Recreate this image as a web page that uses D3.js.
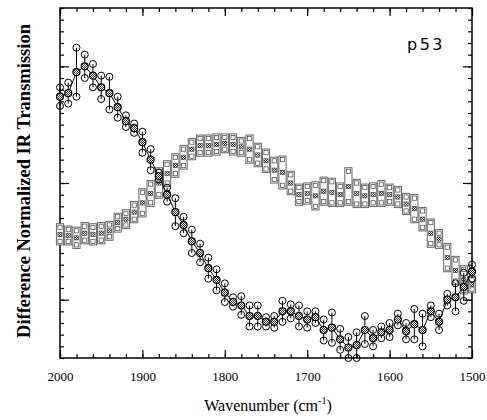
<!DOCTYPE html>
<html>
<head>
<meta charset="utf-8">
<script src="https://cdn.jsdelivr.net/npm/d3@7"></script>
<style>
  body { margin: 0; background: #fff; }
  svg { display: block; }
</style>
</head>
<body>
<div id="chart"></div>
<script>
'use strict';

// wavenumbers (cm-1), one point every 10
var wavenumbers = [2000,1990,1980,1970,1960,1950,1940,1930,1920,1910,
  1900,1890,1880,1870,1860,1850,1840,1830,1820,1810,
  1800,1790,1780,1770,1760,1750,1740,1730,1720,1710,
  1700,1690,1680,1670,1660,1650,1640,1630,1620,1610,
  1600,1590,1580,1570,1560,1550,1540,1530,1520,1510,1500];

// circle series (descending)
var circleVals = [0.74,0.77,0.95,1.00,0.92,0.82,0.77,0.65,0.53,0.47,
  0.35,0.20,0.06,-0.10,-0.25,-0.36,-0.50,-0.60,-0.73,-0.83,
  -0.94,-1.02,-1.05,-1.14,-1.14,-1.19,-1.19,-1.10,-1.10,-1.14,
  -1.17,-1.15,-1.26,-1.24,-1.34,-1.41,-1.39,-1.26,-1.33,-1.28,
  -1.26,-1.17,-1.27,-1.21,-1.26,-1.10,-1.19,-1.00,-0.98,-0.89,-0.76];
var circleErr = [0.08,0.09,0.21,0.10,0.10,0.10,0.14,0.09,0.05,0.04,
  0.09,0.09,0.03,0.06,0.12,0.07,0.10,0.08,0.09,0.09,
  0.08,0.04,0.08,0.09,0.09,0.04,0.05,0.09,0.06,0.09,
  0.07,0.05,0.09,0.13,0.09,0.09,0.11,0.12,0.07,0.05,
  0.06,0.05,0.07,0.13,0.14,0.05,0.07,0.05,0.12,0.12,0.06];

// square series (rising then falling)
var squareVals = [-0.44,-0.45,-0.47,-0.43,-0.44,-0.43,-0.41,-0.34,-0.31,-0.25,
  -0.17,-0.09,0.00,0.08,0.15,0.22,0.29,0.32,0.32,0.33,
  0.34,0.33,0.31,0.29,0.24,0.19,0.11,0.09,0.00,-0.10,
  -0.09,-0.11,-0.07,-0.08,-0.10,-0.03,-0.09,-0.11,-0.10,-0.09,
  -0.10,-0.12,-0.18,-0.22,-0.31,-0.43,-0.48,-0.64,-0.75,-0.83,-0.87];
var squareErr = [0.06,0.05,0.06,0.06,0.06,0.06,0.05,0.05,0.05,0.06,
  0.09,0.08,0.10,0.08,0.07,0.07,0.06,0.06,0.06,0.06,
  0.05,0.06,0.05,0.09,0.07,0.07,0.08,0.11,0.07,0.06,
  0.06,0.09,0.09,0.09,0.07,0.13,0.09,0.07,0.07,0.08,
  0.06,0.06,0.06,0.09,0.07,0.09,0.05,0.09,0.09,0.09,0.04];

var xMajor = [2000,1900,1800,1700,1600,1500];
var yMajor = [-1,0,1];

var serif = '"Liberation Serif", "Times New Roman", Times, serif';

var width = 487, height = 420;
var margin = {top: 8, right: 15, bottom: 62, left: 60};
var w = width - margin.left - margin.right,
    h = height - margin.top - margin.bottom;

var svg = d3.select('#chart').append('svg')
  .attr('width', width).attr('height', height);

// checker pattern for the markers
var defs = svg.append('defs');
var pat = defs.append('pattern').attr('id','hatch')
  .attr('width',2).attr('height',2).attr('patternUnits','userSpaceOnUse');
pat.append('rect').attr('width',2).attr('height',2).attr('fill','#fff');
pat.append('rect').attr('width',1).attr('height',1).attr('fill','#333');
pat.append('rect').attr('x',1).attr('y',1).attr('width',1).attr('height',1).attr('fill','#333');

var g = svg.append('g').attr('transform','translate('+margin.left+','+margin.top+')');

var x = d3.scaleLinear().domain([2000,1500]).range([0,w]);
var y = d3.scaleLinear().domain([-1.5,1.5]).range([h,0]);

var minorX = d3.range(1500,2001,20);
var minorY = d3.range(-15,16).map(function(d){ return d/10; });

// axes: ticks point inward
g.append('g').attr('transform','translate(0,'+h+')')
  .call(d3.axisBottom(x).tickValues(minorX).tickSize(-4).tickFormat(''));
var xAx = g.append('g').attr('transform','translate(0,'+h+')')
  .call(d3.axisBottom(x).tickValues(xMajor).tickSizeInner(-8).tickSizeOuter(0).tickPadding(14).tickFormat(d3.format('d')));
xAx.attr('font-family', serif).attr('font-size', 13);
xAx.selectAll('text').attr('fill','#000');
g.append('g')
  .call(d3.axisTop(x).tickValues(minorX).tickSize(-4).tickFormat(''));
g.append('g')
  .call(d3.axisTop(x).tickValues(xMajor).tickSize(-8).tickFormat(''));
g.append('g')
  .call(d3.axisLeft(y).tickValues(minorY).tickSize(-4).tickFormat(''));
g.append('g')
  .call(d3.axisLeft(y).tickValues(yMajor).tickSize(-9).tickFormat(''));
g.append('g').attr('transform','translate('+w+',0)')
  .call(d3.axisRight(y).tickValues(minorY).tickSize(-4).tickFormat(''));
g.append('g').attr('transform','translate('+w+',0)')
  .call(d3.axisRight(y).tickValues(yMajor).tickSize(-9).tickFormat(''));

g.selectAll('.domain').remove();
g.selectAll('.tick line').attr('stroke','#000').attr('stroke-width',1.2);

g.append('rect').attr('width',w).attr('height',h)
  .attr('fill','none').attr('stroke','#000').attr('stroke-width',1.5);

var sqData = wavenumbers.map(function(d,i){ return {w:d, v:squareVals[i], e:squareErr[i]}; });
var ciData = wavenumbers.map(function(d,i){ return {w:d, v:circleVals[i], e:circleErr[i]}; });

var line = d3.line().x(function(d){ return x(d.w); }).y(function(d){ return y(d.v); });

// squares
g.append('path').datum(sqData).attr('d',line)
  .attr('fill','none').attr('stroke','#666').attr('stroke-width',0.8);
var sq = g.selectAll('.sq').data(sqData).enter().append('g').attr('class','sq');
var s = 3.6;
sq.append('rect')
  .attr('x',function(d){ return x(d.w)-s; })
  .attr('y',function(d){ return y(d.v+d.e)-s; })
  .attr('width',2*s)
  .attr('height',function(d){ return y(d.v-d.e)-y(d.v+d.e)+2*s; })
  .attr('fill','#fff').attr('stroke','#666').attr('stroke-width',1);
[-1,0,1].forEach(function(k){
  sq.append('rect')
    .attr('x',function(d){ return x(d.w)-s+1.5; })
    .attr('y',function(d){ return y(d.v+k*d.e)-s+1.5; })
    .attr('width',2*s-3).attr('height',2*s-3)
    .attr('fill', k===0 ? 'url(#hatch)' : '#fff')
    .attr('stroke','#444').attr('stroke-width',0.7);
});

// circles
g.append('path').datum(ciData).attr('d',line)
  .attr('fill','none').attr('stroke','#000').attr('stroke-width',1);
var ci = g.selectAll('.ci').data(ciData).enter().append('g').attr('class','ci');
var r = 3.5;
ci.append('line')
  .attr('x1',function(d){ return x(d.w); }).attr('x2',function(d){ return x(d.w); })
  .attr('y1',function(d){ return y(d.v+d.e); }).attr('y2',function(d){ return y(d.v-d.e); })
  .attr('stroke','#000').attr('stroke-width',1);
[-1,1].forEach(function(k){
  ci.append('circle')
    .attr('cx',function(d){ return x(d.w); })
    .attr('cy',function(d){ return y(d.v+k*d.e); })
    .attr('r',r).attr('fill','none').attr('stroke','#000').attr('stroke-width',1);
});
ci.append('circle')
  .attr('cx',function(d){ return x(d.w); })
  .attr('cy',function(d){ return y(d.v); })
  .attr('r',r).attr('fill','url(#hatch)').attr('stroke','#000').attr('stroke-width',1.2);

// labels
g.append('text').attr('x',347).attr('y',42)
  .attr('font-family','"DejaVu Sans", sans-serif').attr('font-size',16)
  .attr('letter-spacing',2.5).text('p53');

var xt = svg.append('text').attr('x',268).attr('y',411).attr('text-anchor','middle')
  .attr('font-family', serif).attr('font-size',16);
xt.append('tspan').text('Wavenumber (cm');
xt.append('tspan').attr('dy',-7).attr('font-size',10).text('-1');
xt.append('tspan').attr('dy',7).text(')');

svg.append('text')
  .attr('transform','translate(30,181) rotate(-90)')
  .attr('text-anchor','middle')
  .attr('font-family', serif)
  .attr('font-weight','bold').attr('font-size',18.5)
  .text('Difference Normalized IR Transmission');
</script>
</body>
</html>
